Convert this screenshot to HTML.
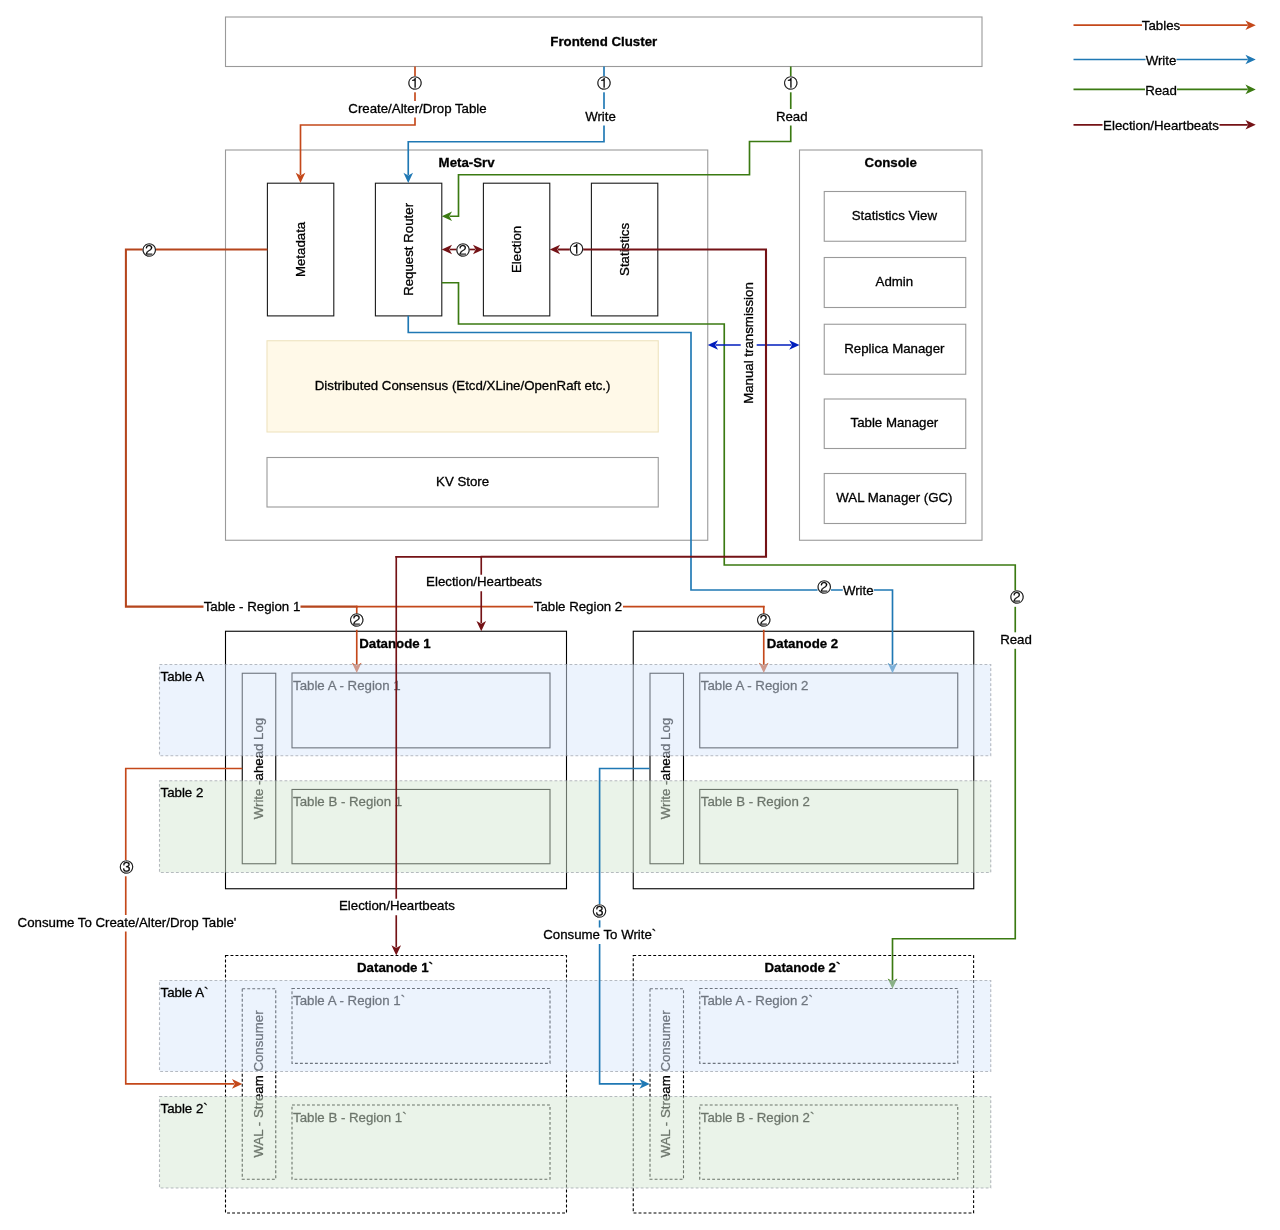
<!DOCTYPE html>
<html lang="en">
<head>
<meta charset="utf-8">
<title>GreptimeDB architecture</title>
<style>
html,body{margin:0;padding:0;background:#fff;}
body{width:1280px;height:1230px;overflow:hidden;}
svg{display:block;will-change:transform;}
svg text{font-family:"Liberation Sans","Noto Sans CJK JP",sans-serif;stroke:#000;stroke-width:.3px;}
svg text.cj{font-family:"Liberation Sans","WenQuanYi Zen Hei","Noto Sans CJK JP",sans-serif;stroke-width:.25px;}
</style>
</head>
<body>
<svg width="1280" height="1230" viewBox="0 0 1280 1230">
<rect x="0" y="0" width="1280" height="1230" fill="#fff"/>
<rect x="225.5" y="17.0" width="756.5" height="49.5" fill="#fff" stroke="#9a9a9a" stroke-width="1.1"/>
<text x="603.75" y="45.9" text-anchor="middle" font-weight="bold" fill="#000" font-size="13.27">Frontend Cluster</text>
<rect x="225.5" y="150" width="482.25" height="390.25" fill="#fff" stroke="#9a9a9a" stroke-width="1.1"/>
<text x="466.6" y="166.9" text-anchor="middle" font-weight="bold" fill="#000" font-size="13.27">Meta-Srv</text>
<rect x="799.5" y="150" width="182.5" height="390.25" fill="#fff" stroke="#9a9a9a" stroke-width="1.1"/>
<text x="890.75" y="166.9" text-anchor="middle" font-weight="bold" fill="#000" font-size="13.27">Console</text>
<rect x="267.4" y="183.2" width="66.4" height="132.7" fill="#fff" stroke="#1a1a1a" stroke-width="1.1"/>
<text x="304.7" y="249.4" text-anchor="middle" fill="#000" font-size="13.27" transform="rotate(-90 304.7 249.4)">Metadata</text>
<rect x="375.4" y="183.2" width="66.4" height="132.7" fill="#fff" stroke="#1a1a1a" stroke-width="1.1"/>
<text x="412.7" y="249.4" text-anchor="middle" fill="#000" font-size="13.27" transform="rotate(-90 412.7 249.4)">Request Router</text>
<rect x="483.4" y="183.2" width="66.4" height="132.7" fill="#fff" stroke="#1a1a1a" stroke-width="1.1"/>
<text x="520.7" y="249.4" text-anchor="middle" fill="#000" font-size="13.27" transform="rotate(-90 520.7 249.4)">Election</text>
<rect x="591.4" y="183.2" width="66.4" height="132.7" fill="#fff" stroke="#1a1a1a" stroke-width="1.1"/>
<text x="628.7" y="249.4" text-anchor="middle" fill="#000" font-size="13.27" transform="rotate(-90 628.7 249.4)">Statistics</text>
<rect x="267" y="340.75" width="391.25" height="91.25" fill="#fff9e8" stroke="#eee3bf" stroke-width="1.1"/>
<text x="462.6" y="390.3" text-anchor="middle" fill="#000" font-size="13.27">Distributed Consensus (Etcd/XLine/OpenRaft etc.)</text>
<rect x="267" y="457.5" width="391.25" height="49.5" fill="#fff" stroke="#9a9a9a" stroke-width="1.1"/>
<text x="462.6" y="486.1" text-anchor="middle" fill="#000" font-size="13.27">KV Store</text>
<rect x="824.25" y="191.5" width="141.5" height="49.75" fill="#fff" stroke="#9a9a9a" stroke-width="1.1"/>
<text x="894.4" y="220.07" text-anchor="middle" fill="#000" font-size="13.27">Statistics View</text>
<rect x="824.25" y="257.5" width="141.5" height="50.0" fill="#fff" stroke="#9a9a9a" stroke-width="1.1"/>
<text x="894.4" y="286.2" text-anchor="middle" fill="#000" font-size="13.27">Admin</text>
<rect x="824.25" y="324.25" width="141.5" height="50.0" fill="#fff" stroke="#9a9a9a" stroke-width="1.1"/>
<text x="894.4" y="352.95" text-anchor="middle" fill="#000" font-size="13.27">Replica Manager</text>
<rect x="824.25" y="399" width="141.5" height="49.5" fill="#fff" stroke="#9a9a9a" stroke-width="1.1"/>
<text x="894.4" y="427.45" text-anchor="middle" fill="#000" font-size="13.27">Table Manager</text>
<rect x="824.25" y="473.5" width="141.5" height="50.0" fill="#fff" stroke="#9a9a9a" stroke-width="1.1"/>
<text x="894.4" y="502.2" text-anchor="middle" fill="#000" font-size="13.27">WAL Manager (GC)</text>
<rect x="225.5" y="631.25" width="341.0" height="257.5" fill="#fff" stroke="#000" stroke-width="1.1"/>
<text x="395.0" y="647.85" text-anchor="middle" font-weight="bold" fill="#000" font-size="13.27">Datanode 1</text>
<rect x="242.25" y="673.25" width="33.5" height="190.5" fill="#fff" stroke="#000" stroke-width="1.1"/>
<text x="262.7" y="768.5" text-anchor="middle" fill="#000" font-size="13.27" transform="rotate(-90 262.7 768.5)">Write -ahead Log</text>
<rect x="292.0" y="673.0" width="258.0" height="74.85" fill="#fff" stroke="#000" stroke-width="1.1"/>
<text x="293.0" y="689.85" text-anchor="start" fill="#000" font-size="13.27">Table A - Region 1</text>
<rect x="292.0" y="789.45" width="258.0" height="74.3" fill="#fff" stroke="#000" stroke-width="1.1"/>
<text x="293.0" y="806.05" text-anchor="start" fill="#000" font-size="13.27">Table B - Region 1</text>
<rect x="633.25" y="631.25" width="340.5" height="257.5" fill="#fff" stroke="#000" stroke-width="1.1"/>
<text x="802.5" y="647.85" text-anchor="middle" font-weight="bold" fill="#000" font-size="13.27">Datanode 2</text>
<rect x="650.0" y="673.25" width="33.5" height="190.5" fill="#fff" stroke="#000" stroke-width="1.1"/>
<text x="670.45" y="768.5" text-anchor="middle" fill="#000" font-size="13.27" transform="rotate(-90 670.45 768.5)">Write -ahead Log</text>
<rect x="699.75" y="673.0" width="258.0" height="74.85" fill="#fff" stroke="#000" stroke-width="1.1"/>
<text x="700.75" y="689.85" text-anchor="start" fill="#000" font-size="13.27">Table A - Region 2</text>
<rect x="699.75" y="789.45" width="258.0" height="74.3" fill="#fff" stroke="#000" stroke-width="1.1"/>
<text x="700.75" y="806.05" text-anchor="start" fill="#000" font-size="13.27">Table B - Region 2</text>
<rect x="225.5" y="955.5" width="341.0" height="257.5" fill="#fff" stroke="#000" stroke-width="1.1" stroke-dasharray="2.9 2.1"/>
<text x="395.0" y="972.1" text-anchor="middle" font-weight="bold" fill="#000" font-size="13.27">Datanode 1`</text>
<rect x="242.25" y="988.75" width="33.5" height="190.5" fill="#fff" stroke="#000" stroke-width="1.1" stroke-dasharray="2.9 2.1"/>
<text x="262.7" y="1084.0" text-anchor="middle" fill="#000" font-size="13.27" transform="rotate(-90 262.7 1084.0)">WAL - Stream Consumer</text>
<rect x="292.0" y="988.5" width="258.0" height="74.85" fill="#fff" stroke="#000" stroke-width="1.1" stroke-dasharray="2.9 2.1"/>
<text x="293.0" y="1005.35" text-anchor="start" fill="#000" font-size="13.27">Table A - Region 1`</text>
<rect x="292.0" y="1104.95" width="258.0" height="74.3" fill="#fff" stroke="#000" stroke-width="1.1" stroke-dasharray="2.9 2.1"/>
<text x="293.0" y="1121.55" text-anchor="start" fill="#000" font-size="13.27">Table B - Region 1`</text>
<rect x="633.25" y="955.5" width="340.35" height="257.5" fill="#fff" stroke="#000" stroke-width="1.1" stroke-dasharray="2.9 2.1"/>
<text x="802.42" y="972.1" text-anchor="middle" font-weight="bold" fill="#000" font-size="13.27">Datanode 2`</text>
<rect x="650.0" y="988.75" width="33.5" height="190.5" fill="#fff" stroke="#000" stroke-width="1.1" stroke-dasharray="2.9 2.1"/>
<text x="670.45" y="1084.0" text-anchor="middle" fill="#000" font-size="13.27" transform="rotate(-90 670.45 1084.0)">WAL - Stream Consumer</text>
<rect x="699.75" y="988.5" width="258.0" height="74.85" fill="#fff" stroke="#000" stroke-width="1.1" stroke-dasharray="2.9 2.1"/>
<text x="700.75" y="1005.35" text-anchor="start" fill="#000" font-size="13.27">Table A - Region 2`</text>
<rect x="699.75" y="1104.95" width="258.0" height="74.3" fill="#fff" stroke="#000" stroke-width="1.1" stroke-dasharray="2.9 2.1"/>
<text x="700.75" y="1121.55" text-anchor="start" fill="#000" font-size="13.27">Table B - Region 2`</text>
<polyline points="415,66.5 415,125 300.5,125 300.5,175.0" fill="none" stroke="#C4481A" stroke-width="1.66" stroke-linejoin="miter"/>
<polygon points="300.5,183 295.7,172.7 300.5,175.5 305.3,172.7" fill="#C4481A"/>
<polyline points="604,66.5 604,141.75 408.25,141.75 408.25,175.0" fill="none" stroke="#1F78B4" stroke-width="1.66" stroke-linejoin="miter"/>
<polygon points="408.25,183 403.45,172.7 408.25,175.5 413.05,172.7" fill="#1F78B4"/>
<polyline points="790.75,66.5 790.75,141.5 749.5,141.5 749.5,174.75 458.5,174.75 458.5,216.25 449.75,216.25" fill="none" stroke="#3B7A12" stroke-width="1.66" stroke-linejoin="miter"/>
<polygon points="441.75,216.25 452.05,211.45 449.25,216.25 452.05,221.05" fill="#3B7A12"/>
<polyline points="267.4,249.5 125.9,249.5 125.9,606.6 357.5,606.6" fill="none" stroke="#B5451C" stroke-width="2.05" stroke-linejoin="miter"/>
<polyline points="356,606.7 764.6,606.7" fill="none" stroke="#C4481A" stroke-width="1.66" stroke-linejoin="miter"/>
<polyline points="356.75,606.5 356.75,665.0" fill="none" stroke="#C4481A" stroke-width="1.66" stroke-linejoin="miter"/>
<polygon points="356.75,673.0 351.95,662.7 356.75,665.5 361.55,662.7" fill="#C4481A"/>
<polyline points="763.75,605.9 763.75,665.0" fill="none" stroke="#C4481A" stroke-width="1.66" stroke-linejoin="miter"/>
<polygon points="763.75,673.0 758.95,662.7 763.75,665.5 768.55,662.7" fill="#C4481A"/>
<polyline points="408.25,315.75 408.25,332.5 691,332.5 691,590 892.5,590 892.5,665.25" fill="none" stroke="#1F78B4" stroke-width="1.66" stroke-linejoin="miter"/>
<polygon points="892.5,673.25 887.7,662.95 892.5,665.75 897.3,662.95" fill="#1F78B4"/>
<polyline points="441.75,282.75 458.5,282.75 458.5,324 724.25,324 724.25,565 1015.25,565 1015.25,938.75 892.5,938.75 892.5,980.75" fill="none" stroke="#3B7A12" stroke-width="1.66" stroke-linejoin="miter"/>
<polygon points="892.5,988.75 887.7,978.45 892.5,981.25 897.3,978.45" fill="#3B7A12"/>
<polyline points="242.25,768.5 125.75,768.5 125.75,1083.9 234.25,1083.9" fill="none" stroke="#C4481A" stroke-width="1.66" stroke-linejoin="miter"/>
<polygon points="242.25,1083.9 231.95,1088.7 234.75,1083.9 231.95,1079.1" fill="#C4481A"/>
<polyline points="715.75,345.0 791.5,345.0" fill="none" stroke="#001DBC" stroke-width="1.66" stroke-linejoin="miter"/>
<polygon points="799.5,345 789.2,349.8 792.0,345.0 789.2,340.2" fill="#001DBC"/>
<polygon points="707.75,345 718.05,340.2 715.25,345.0 718.05,349.8" fill="#001DBC"/>
<polyline points="449.75,249.5 475.25,249.5" fill="none" stroke="#741216" stroke-width="1.66" stroke-linejoin="miter"/>
<polygon points="483.25,249.5 472.95,254.3 475.75,249.5 472.95,244.7" fill="#741216"/>
<polygon points="441.75,249.5 452.05,244.7 449.25,249.5 452.05,254.3" fill="#741216"/>
<rect x="159.5" y="664.5" width="831.25" height="91.25" fill="#dae8fc" fill-opacity="0.5" stroke="#8a8f99" stroke-opacity="0.6" stroke-width="1.1" stroke-dasharray="2.8 2.2"/>
<text x="160.5" y="681.1" text-anchor="start" fill="#000" font-size="13.27">Table A</text>
<rect x="159.5" y="780.75" width="831.25" height="91.75" fill="#d5e8d4" fill-opacity="0.5" stroke="#8a8f99" stroke-opacity="0.6" stroke-width="1.1" stroke-dasharray="2.8 2.2"/>
<text x="160.5" y="797.35" text-anchor="start" fill="#000" font-size="13.27">Table 2</text>
<rect x="159.5" y="980.5" width="831.25" height="91.0" fill="#dae8fc" fill-opacity="0.5" stroke="#8a8f99" stroke-opacity="0.6" stroke-width="1.1" stroke-dasharray="2.8 2.2"/>
<text x="160.5" y="997.1" text-anchor="start" fill="#000" font-size="13.27">Table A`</text>
<rect x="159.5" y="1096.5" width="831.25" height="91.5" fill="#d5e8d4" fill-opacity="0.5" stroke="#8a8f99" stroke-opacity="0.6" stroke-width="1.1" stroke-dasharray="2.8 2.2"/>
<text x="160.5" y="1113.1" text-anchor="start" fill="#000" font-size="13.27">Table 2`</text>
<polyline points="649.75,768.5 599.6,768.5 599.6,1083.9 641.75,1083.9" fill="none" stroke="#1F78B4" stroke-width="1.66" stroke-linejoin="miter"/>
<polygon points="649.75,1083.9 639.45,1088.7 642.25,1083.9 639.45,1079.1" fill="#1F78B4"/>
<polyline points="766,249.5 766,556.7 480.5,556.7" fill="none" stroke="#741216" stroke-width="2.1" stroke-linejoin="miter"/>
<polyline points="767.0,249.5 557.8,249.5" fill="none" stroke="#741216" stroke-width="2.1" stroke-linejoin="miter"/>
<polygon points="549.8,249.5 560.1,244.7 557.3,249.5 560.1,254.3" fill="#741216"/>
<polyline points="481.25,556.5 481.25,623.25" fill="none" stroke="#741216" stroke-width="1.66" stroke-linejoin="miter"/>
<polygon points="481.25,631.25 476.45,620.95 481.25,623.75 486.05,620.95" fill="#741216"/>
<polyline points="482,556.9 395.4,556.9" fill="none" stroke="#741216" stroke-width="1.66" stroke-linejoin="miter"/>
<polyline points="396.25,556.1 396.25,947.5" fill="none" stroke="#741216" stroke-width="1.66" stroke-linejoin="miter"/>
<polygon points="396.25,955.5 391.45,945.2 396.25,948.0 401.05,945.2" fill="#741216"/>
<polyline points="1073.5,25.2 1247.75,25.2" fill="none" stroke="#C4481A" stroke-width="1.66" stroke-linejoin="miter"/>
<polygon points="1255.75,25.2 1245.45,30.0 1248.25,25.2 1245.45,20.4" fill="#C4481A"/>
<polyline points="1073.5,59.5 1247.75,59.5" fill="none" stroke="#1F78B4" stroke-width="1.66" stroke-linejoin="miter"/>
<polygon points="1255.75,59.5 1245.45,64.3 1248.25,59.5 1245.45,54.7" fill="#1F78B4"/>
<polyline points="1073.5,89.4 1247.75,89.4" fill="none" stroke="#3B7A12" stroke-width="1.66" stroke-linejoin="miter"/>
<polygon points="1255.75,89.4 1245.45,94.2 1248.25,89.4 1245.45,84.6" fill="#3B7A12"/>
<polyline points="1073.5,124.8 1247.75,124.8" fill="none" stroke="#741216" stroke-width="1.66" stroke-linejoin="miter"/>
<polygon points="1255.75,124.8 1245.45,129.6 1248.25,124.8 1245.45,120.0" fill="#741216"/>
<rect x="408.3" y="76" width="13.4" height="16.3" fill="#fff"/>
<text x="415" y="87.5" text-anchor="middle" font-size="14.0" class="cj">①</text>
<rect x="347.5" y="101" width="140" height="16.5" fill="#fff"/>
<text x="417.5" y="112.6" text-anchor="middle" fill="#000" font-size="13.27">Create/Alter/Drop Table</text>
<rect x="597.3" y="76" width="13.4" height="16.3" fill="#fff"/>
<text x="604" y="87.5" text-anchor="middle" font-size="14.0" class="cj">①</text>
<rect x="585.0" y="109" width="31" height="16.5" fill="#fff"/>
<text x="600.5" y="120.6" text-anchor="middle" fill="#000" font-size="13.27">Write</text>
<rect x="784.05" y="76" width="13.4" height="16.3" fill="#fff"/>
<text x="790.75" y="87.5" text-anchor="middle" font-size="14.0" class="cj">①</text>
<rect x="775.75" y="109" width="32" height="16.5" fill="#fff"/>
<text x="791.75" y="120.6" text-anchor="middle" fill="#000" font-size="13.27">Read</text>
<rect x="142.55" y="243.3" width="13.4" height="16.3" fill="#fff"/>
<text x="149.25" y="254.8" text-anchor="middle" font-size="14.0" class="cj">②</text>
<rect x="456.3" y="243.3" width="13.4" height="16.3" fill="#fff"/>
<text x="463" y="254.8" text-anchor="middle" font-size="14.0" class="cj">②</text>
<rect x="569.8" y="242.6" width="13.4" height="16.3" fill="#fff"/>
<text x="576.5" y="254.1" text-anchor="middle" font-size="14.0" class="cj">①</text>
<g transform="rotate(-90 748.7 343)">
<rect x="692.7" y="335.0" width="112" height="16" fill="#fff"/>
<text x="748.7" y="347.6" text-anchor="middle" fill="#000" font-size="13.27">Manual transmission</text>
</g>
<rect x="425.5" y="574.75" width="117" height="16.5" fill="#fff"/>
<text x="484" y="586.35" text-anchor="middle" fill="#000" font-size="13.27">Election/Heartbeats</text>
<rect x="203.5" y="599.5" width="97" height="16.5" fill="#fff"/>
<text x="252" y="611.1" text-anchor="middle" fill="#000" font-size="13.27">Table - Region 1</text>
<rect x="533.0" y="599.5" width="90" height="16.5" fill="#fff"/>
<text x="578" y="611.1" text-anchor="middle" fill="#000" font-size="13.27">Table Region 2</text>
<rect x="350.05" y="613.5" width="13.4" height="16.3" fill="#fff"/>
<text x="356.75" y="625.0" text-anchor="middle" font-size="14.0" class="cj">②</text>
<rect x="757.05" y="613.5" width="13.4" height="16.3" fill="#fff"/>
<text x="763.75" y="625.0" text-anchor="middle" font-size="14.0" class="cj">②</text>
<rect x="817.55" y="580" width="13.4" height="16.3" fill="#fff"/>
<text x="824.25" y="591.5" text-anchor="middle" font-size="14.0" class="cj">②</text>
<rect x="842.75" y="583" width="31" height="16.5" fill="#fff"/>
<text x="858.25" y="594.6" text-anchor="middle" fill="#000" font-size="13.27">Write</text>
<rect x="1010.3" y="590.5" width="13.4" height="16.3" fill="#fff"/>
<text x="1017" y="602.0" text-anchor="middle" font-size="14.0" class="cj">②</text>
<rect x="1000.0" y="632.3" width="32" height="16.5" fill="#fff"/>
<text x="1016" y="643.9" text-anchor="middle" fill="#000" font-size="13.27">Read</text>
<rect x="119.8" y="860" width="13.4" height="16.3" fill="#fff"/>
<text x="126.5" y="871.5" text-anchor="middle" font-size="14.0" class="cj">③</text>
<rect x="16.5" y="915.0" width="221" height="16.5" fill="#fff"/>
<text x="127.0" y="926.6" text-anchor="middle" fill="#000" font-size="13.27">Consume To Create/Alter/Drop Table'</text>
<rect x="338.4" y="898.75" width="117" height="16.5" fill="#fff"/>
<text x="396.9" y="910.35" text-anchor="middle" fill="#000" font-size="13.27">Election/Heartbeats</text>
<rect x="592.8" y="904" width="13.4" height="16.3" fill="#fff"/>
<text x="599.5" y="915.5" text-anchor="middle" font-size="14.0" class="cj">③</text>
<rect x="542.75" y="927.5" width="114" height="16.5" fill="#fff"/>
<text x="599.75" y="939.1" text-anchor="middle" fill="#000" font-size="13.27">Consume To Write`</text>
<rect x="1142.0" y="18.7" width="38" height="16.5" fill="#fff"/>
<text x="1161" y="30.3" text-anchor="middle" fill="#000" font-size="13.27">Tables</text>
<rect x="1145.5" y="53.0" width="31" height="16.5" fill="#fff"/>
<text x="1161" y="64.6" text-anchor="middle" fill="#000" font-size="13.27">Write</text>
<rect x="1145.0" y="82.9" width="32" height="16.5" fill="#fff"/>
<text x="1161" y="94.5" text-anchor="middle" fill="#000" font-size="13.27">Read</text>
<rect x="1102.5" y="118.3" width="117" height="16.5" fill="#fff"/>
<text x="1161" y="129.9" text-anchor="middle" fill="#000" font-size="13.27">Election/Heartbeats</text>
</svg>
</body>
</html>
